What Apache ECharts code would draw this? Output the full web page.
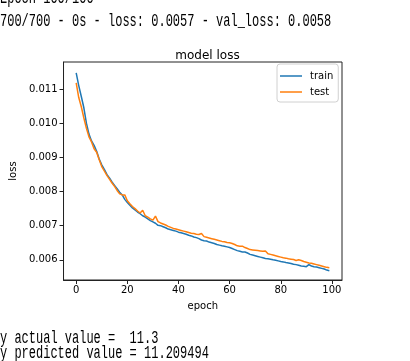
<!DOCTYPE html>
<html>
<head>
<meta charset="utf-8">
<script src="https://cdn.jsdelivr.net/npm/echarts@6/dist/echarts.min.js"></script>
<style>
html,body{margin:0;padding:0;background:#fff;}
#c{width:410px;height:361px;}
</style>
</head>
<body>
<div id="c"></div>
<script>
const epochs = Array.from({length: 100}, (_, i) => i);
const trainLoss = [
0.01147,0.01110,0.01078,0.01045,0.01000,0.00968,0.00948,0.00935,0.00918,0.00895,
0.00878,0.00865,0.00850,0.00840,0.00828,0.00818,0.00808,0.00798,0.00790,0.00777,
0.00768,0.00760,0.00752,0.00746,0.00740,0.00735,0.00729,0.00725,0.00720,0.00715,
0.00711,0.00707,0.00701,0.00700,0.00697,0.00694,0.00690,0.00688,0.00686,0.00684,
0.00681,0.00679,0.00677,0.00675,0.00672,0.00670,0.00667,0.00665,0.00662,0.00658,
0.00656,0.00655,0.00652,0.00650,0.00648,0.00645,0.00643,0.00641,0.00640,0.00638,
0.00636,0.00633,0.00630,0.00627,0.00625,0.00623,0.00623,0.00620,0.00616,0.00614,
0.00612,0.00610,0.00608,0.00606,0.00604,0.00603,0.00602,0.00600,0.00599,0.00597,
0.00595,0.00594,0.00592,0.00591,0.00589,0.00587,0.00586,0.00584,0.00582,0.00581,
0.00580,0.00586,0.00582,0.00580,0.00579,0.00577,0.00575,0.00573,0.00570,0.00568
];
const testLoss = [
0.01118,0.01075,0.01048,0.01015,0.00985,0.00960,0.00945,0.00925,0.00915,0.00893,
0.00873,0.00860,0.00847,0.00836,0.00825,0.00815,0.00803,0.00793,0.00790,0.00790,
0.00773,0.00764,0.00756,0.00750,0.00743,0.00737,0.00745,0.00729,0.00725,0.00720,
0.00716,0.00728,0.00712,0.00708,0.00705,0.00702,0.00698,0.00695,0.00692,0.00690,
0.00688,0.00686,0.00684,0.00682,0.00680,0.00678,0.00677,0.00675,0.00674,0.00677,
0.00668,0.00666,0.00664,0.00662,0.00660,0.00658,0.00656,0.00654,0.00653,0.00651,
0.00650,0.00648,0.00645,0.00641,0.00640,0.00640,0.00636,0.00633,0.00630,0.00629,
0.00628,0.00627,0.00626,0.00625,0.00626,0.00618,0.00616,0.00614,0.00612,0.00610,
0.00608,0.00606,0.00605,0.00603,0.00602,0.00601,0.00598,0.00600,0.00598,0.00595,
0.00593,0.00591,0.00590,0.00588,0.00586,0.00584,0.00582,0.00580,0.00578,0.00577
];
const xTicks = [0, 20, 40, 60, 80, 100];
const yTicks = [0.006, 0.007, 0.008, 0.009, 0.010, 0.011];
const consoleTop = ['Epoch 100/100', '700/700 - 0s - loss: 0.0057 - val_loss: 0.0058'];
const consoleBottom = ['y actual value =  11.3', 'y predicted value = 11.209494'];

const chart = echarts.init(document.getElementById('c'), null, {renderer: 'canvas'});
const mono = (t, y) => ({
  type: 'text', x: 0, y: y, scaleY: 1.55,
  style: {text: t, font: '12px "Liberation Mono"', fill: '#000', verticalAlign: 'bottom'}
});
chart.setOption({
  animation: false,
  backgroundColor: '#fff',
  textStyle: {fontFamily: 'DejaVu Sans'},
  title: {
    text: 'model loss', left: 202.5, textAlign: 'center', top: 45,
    textStyle: {fontSize: 12, fontWeight: 'normal', color: '#000', fontFamily: 'DejaVu Sans'}
  },
  grid: {left: 63, right: 68, top: 62, bottom: 81, show: true, borderColor: '#222', borderWidth: 1, backgroundColor: 'transparent'},
  legend: {
    orient: 'vertical', left: 277, top: 64,
    data: ['train', 'test'],
    icon: 'rect',
    itemWidth: 22, itemHeight: 1.5, itemGap: 4,
    padding: [6, 5, 4, 3],
    borderColor: '#d0d0d0', borderWidth: 1, borderRadius: 3, backgroundColor: '#fff',
    textStyle: {fontSize: 10, lineHeight: 12, color: '#000', fontFamily: 'DejaVu Sans', padding: [0, 0, 0, 3]}
  },
  xAxis: {
    type: 'value', min: -4.95, max: 103.95,
    name: 'epoch', nameLocation: 'middle', nameGap: 21,
    nameTextStyle: {fontSize: 10, color: '#000'},
    axisLine: {onZero: false, lineStyle: {color: '#222'}},
    axisTick: {show: true, length: 4, inside: false, customValues: xTicks, lineStyle: {color: '#222'}},
    axisLabel: {customValues: xTicks, fontSize: 10, color: '#000', margin: 5},
    splitLine: {show: false}
  },
  yAxis: {
    type: 'value', min: 0.00541, max: 0.01179,
    name: 'loss', nameLocation: 'middle', nameGap: 39,
    nameTextStyle: {fontSize: 10, color: '#000'},
    axisLine: {onZero: false, lineStyle: {color: '#222'}},
    axisTick: {show: true, length: 4, inside: false, customValues: yTicks, lineStyle: {color: '#222'}},
    axisLabel: {customValues: yTicks, fontSize: 10, color: '#000', margin: 6, formatter: v => v.toFixed(3)},
    splitLine: {show: false}
  },
  series: [
    {name: 'train', type: 'line', data: epochs.map((e, i) => [e, trainLoss[i]]), symbol: 'none', lineStyle: {width: 1.5, color: '#1f77b4'}, itemStyle: {color: '#1f77b4'}},
    {name: 'test', type: 'line', data: epochs.map((e, i) => [e, testLoss[i]]), symbol: 'none', lineStyle: {width: 1.5, color: '#ff7f0e'}, itemStyle: {color: '#ff7f0e'}}
  ],
  graphic: [
    mono(consoleTop[0], 7),
    mono(consoleTop[1], 30),
    mono(consoleBottom[0], 347),
    mono(consoleBottom[1], 362)
  ]
});
</script>
</body>
</html>
